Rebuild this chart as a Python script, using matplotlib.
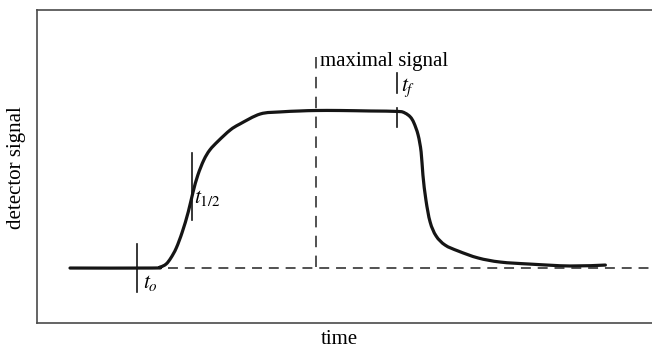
import matplotlib
matplotlib.use("Agg")
import matplotlib.pyplot as plt
import numpy as np
from matplotlib.path import Path
from matplotlib.patches import PathPatch

plt.rcParams['font.family'] = ['Liberation Serif', 'DejaVu Serif']
plt.rcParams['mathtext.fontset'] = 'stix'

# detector trace (arbitrary time units, signal normalised to plateau)
time = [5.5, 19.2, 20.5, 21.5, 22.3, 23.2, 24.2, 25.2, 26.0, 26.8, 27.8, 28.8,
        30.2, 32.2, 33.8, 37.2, 40.5, 43.8, 46.5, 50.5, 55.5, 60.2, 61.3, 62.2,
        62.8, 63.5, 64.0, 64.3, 64.8, 65.5, 66.5, 68.0, 70.2, 73.5, 77.2, 82.2,
        88.8, 94.7]
signal = [0.0, 0.0, 0.006, 0.025, 0.064, 0.127, 0.229, 0.357, 0.484, 0.592, 0.688, 0.752,
          0.809, 0.879, 0.917, 0.981, 0.994, 1.0, 1.003, 1.003, 1.0, 0.997, 0.987, 0.962,
          0.924, 0.847, 0.739, 0.592, 0.433, 0.293, 0.204, 0.146, 0.108, 0.064, 0.038, 0.025,
          0.013, 0.019]

# marker times
t_o = 16.7
t_half = 25.8
t_max = 46.5
t_f = 60.0
baseline_start = 21.8


def smooth_path(ax, xs, ys):
    # Catmull-Rom through the points, converted to cubic Bezier in display space
    pts = ax.transData.transform(np.column_stack([xs, ys]))
    p = np.vstack([pts[0], pts, pts[-1]])
    verts = [pts[0]]
    codes = [Path.MOVETO]
    for i in range(1, len(p) - 2):
        c1 = p[i] + (p[i + 1] - p[i - 1]) / 6.0
        c2 = p[i + 1] - (p[i + 2] - p[i]) / 6.0
        verts += [c1, c2, p[i + 1]]
        codes += [Path.CURVE4] * 3
    return Path(verts, codes)


fig = plt.figure(figsize=(6.52, 3.49), dpi=100)
ax = fig.add_axes([37 / 652, 26 / 349, 623 / 652, 313 / 349])
ax.set_xlim(0, 103.8)
ax.set_ylim(-0.350, 1.643)

ink = '#151515'

# dashed baseline
ax.plot([baseline_start, 103.8], [0, 0], color='#222222', lw=1.1,
        linestyle=(0, (6.5, 4.5)))

# marker lines
ax.plot([t_o, t_o], [0.153, -0.153], color=ink, lw=1.2)
ax.plot([t_half, t_half], [0.732, 0.306], color=ink, lw=1.2)
ax.plot([t_max, t_max], [1.344, 0.006], color='#222222', lw=1.1,
        linestyle=(0, (7.5, 5.5)))
ax.plot([t_f, t_f], [1.242, 1.115], color=ink, lw=1.2)
ax.plot([t_f, t_f], [1.019, 0.898], color=ink, lw=1.2)

# signal curve
curve = PathPatch(smooth_path(ax, time, signal), transform=None, fill=False,
                  edgecolor=ink, lw=2.3, capstyle='round', joinstyle='round')
ax.add_artist(curve)

# labels
ax.text(t_o + 1.0, -0.096, '$t_o$', fontsize=15.5, va='center', ha='left')
ax.text(t_half + 0.4, 0.446, '$t_{1/2}$', fontsize=15.5, va='center', ha='left')
ax.text(t_f + 0.6, 1.146, '$t_f$', fontsize=15.5, va='center', ha='left')
ax.text(t_max + 0.6, 1.287, 'maximal signal', fontsize=15, va='baseline', ha='left')

ax.set_xticks([])
ax.set_yticks([])
for sp in ax.spines.values():
    sp.set_color('#4a4a4a')
    sp.set_linewidth(1.2)

fig.text(339 / 652, 1 - 340 / 349, 'time', fontsize=15, ha='center', va='center')
fig.text(17 / 652, 1 - 168 / 349, 'detector signal', fontsize=15, ha='center',
         va='center', rotation=90)

fig.savefig('out.png', dpi=100)
